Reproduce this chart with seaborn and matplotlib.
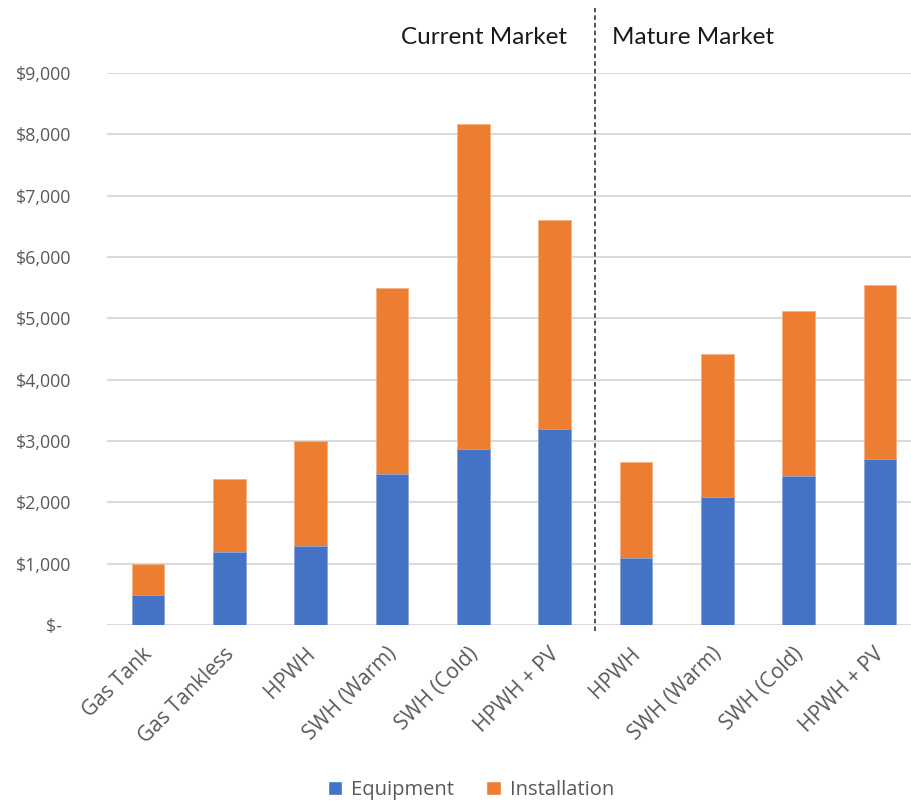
import matplotlib
matplotlib.use("Agg")
import matplotlib.pyplot as plt
import matplotlib.transforms as mtransforms
from matplotlib.patches import Patch
from matplotlib.ticker import FixedLocator
import seaborn as sns
import pandas as pd

# Water-heater cost components (USD)
slots = ["cur_gas_tank", "cur_gas_tankless", "cur_hpwh", "cur_swh_warm", "cur_swh_cold",
         "cur_hpwh_pv", "mat_hpwh", "mat_swh_warm", "mat_swh_cold", "mat_hpwh_pv"]
tick_labels = ["Gas Tank", "Gas Tankless", "HPWH", "SWH (Warm)", "SWH (Cold)", "HPWH + PV",
               "HPWH", "SWH (Warm)", "SWH (Cold)", "HPWH + PV"]
equipment = [490, 1190, 1290, 2460, 2870, 3190, 1090, 2090, 2430, 2700]
installation = [510, 1190, 1710, 3040, 5305, 3410, 1560, 2335, 2695, 2850]
y_ticks = [0, 1000, 2000, 3000, 4000, 5000, 6000, 7000, 8000, 9000]

BLUE = "#4472C4"
ORANGE = "#ED7D31"
GRID = "#D9D9D9"
TICK = "#595959"
LABEL_FONT = ["Open Sans", "DejaVu Sans"]
HEAD_FONT = ["Lato", "DejaVu Sans"]

df = pd.DataFrame({"slot": slots, "equipment": equipment, "installation": installation})
df["total"] = df["equipment"] + df["installation"]

sns.set_theme(style="white")
plt.rcParams["font.family"] = LABEL_FONT

fig = plt.figure(figsize=(9.11, 8.01), dpi=100)
W, H = 911, 801
left, right, top, bottom = 107.3, 920.7, 73, 625
ax = fig.add_axes([left / W, (H - bottom) / H, (right - left) / W, (bottom - top) / H])

# Stacked bars: full total in orange, equipment share overlaid in blue
sns.barplot(data=df, x="slot", y="total", order=slots, color=ORANGE, saturation=1,
            width=0.4, ax=ax, edgecolor="#F4B183", linewidth=0.6)
sns.barplot(data=df, x="slot", y="equipment", order=slots, color=BLUE, saturation=1,
            width=0.4, ax=ax, edgecolor="#8FAADC", linewidth=0.6)

ax.set_xlim(-0.5, len(slots) - 0.5)
ax.set_ylim(0, 9000)
ax.yaxis.set_major_locator(FixedLocator(y_ticks))
ax.set_yticklabels(["$-  " if v == 0 else f"${v:,.0f}" for v in y_ticks])
ax.set_xticks(range(len(slots)))
ax.set_xticklabels(tick_labels, rotation=45, ha="right", rotation_mode="anchor")
ax.tick_params(axis="y", length=0, pad=26, labelsize=12.8, labelcolor=TICK)
ax.tick_params(axis="x", length=0, pad=9, labelsize=15, labelcolor=TICK)
ax.set_xlabel("")
ax.set_ylabel("")

# nudge the slanted category labels slightly left and down
shift = mtransforms.ScaledTranslation(-6 / 100, -6 / 100, fig.dpi_scale_trans)
for lbl in ax.get_xticklabels():
    lbl.set_transform(lbl.get_transform() + shift)

ax.yaxis.grid(True, color=GRID, linewidth=1.4)
ax.set_axisbelow(True)
for s in ax.spines.values():
    s.set_visible(False)

# Divider between the two market scenarios
ax.axvline(5.5, ymin=-0.01, ymax=1.118, color="#262626", linewidth=1.1,
           linestyle=(0, (3, 2)), clip_on=False)

fig.text(484 / W, 1 - 37 / H, "Current Market", ha="center", va="center",
         fontsize=17.5, color="#1a1a1a", family=HEAD_FONT)
fig.text(693 / W, 1 - 37 / H, "Mature Market", ha="center", va="center",
         fontsize=17.5, color="#1a1a1a", family=HEAD_FONT)

handles = [Patch(facecolor=BLUE, label="Equipment"), Patch(facecolor=ORANGE, label="Installation")]
leg = fig.legend(handles=handles, loc="center", bbox_to_anchor=(471 / W, 1 - 790 / H), ncol=2,
                 frameon=False, fontsize=14.5, handlelength=0.7, handleheight=0.7,
                 handletextpad=0.45, columnspacing=1.6)
for t in leg.get_texts():
    t.set_color(TICK)

fig.savefig("out.png", dpi=100)
